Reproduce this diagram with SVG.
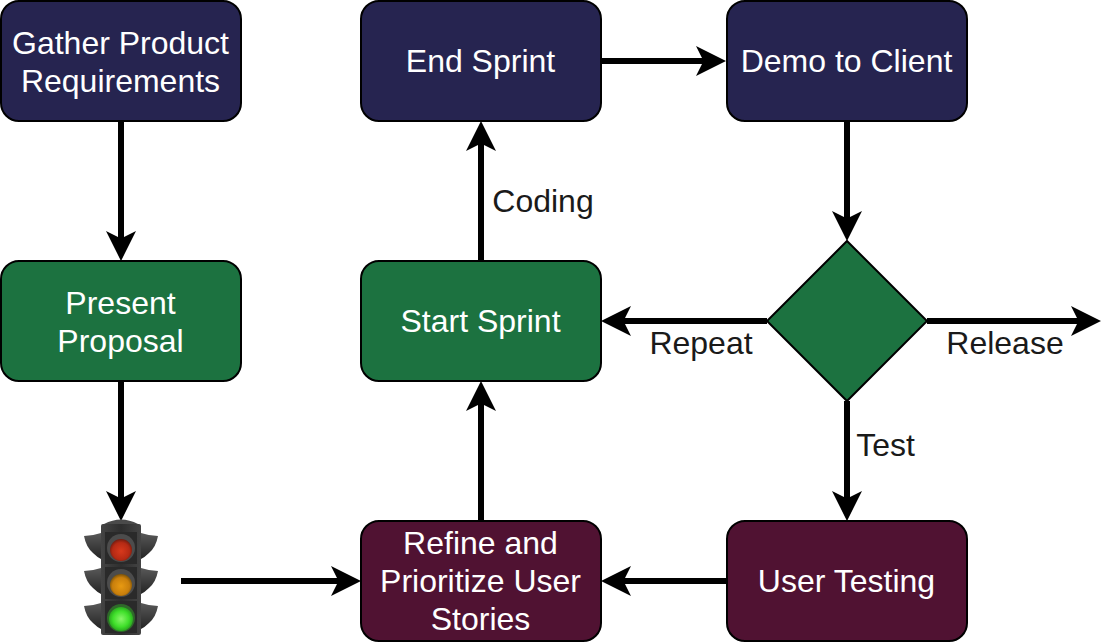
<svg xmlns="http://www.w3.org/2000/svg" width="1120" height="642" viewBox="0 0 1120 642">
<style>
text{font-family:"Liberation Sans",Arial,sans-serif;font-size:32px;text-anchor:middle}
.w{fill:#fff}
.l{fill:#1a1a1a}
.n{stroke:#000;stroke-width:2}
.b{fill:#262450}
.g{fill:#1c7240}
.m{fill:#501232}
.c{fill:none;stroke:#000;stroke-width:6;marker-end:url(#a)}
</style>
<defs>
<marker id="a" markerUnits="userSpaceOnUse" markerWidth="34" markerHeight="34" refX="20" refY="15" orient="auto" viewBox="0 0 34 30" overflow="visible"><path d="M0 0L30 15L0 30L7.500 15Z" fill="#000"/></marker>
<radialGradient id="rl" cx=".5" cy=".55" r=".55"><stop offset="0" stop-color="#d8391c"/><stop offset=".7" stop-color="#b52a14"/><stop offset="1" stop-color="#6e1c10"/></radialGradient>
<radialGradient id="yl" cx=".5" cy=".55" r=".55"><stop offset="0" stop-color="#e89a12"/><stop offset=".7" stop-color="#c97f0c"/><stop offset="1" stop-color="#7a5208"/></radialGradient>
<radialGradient id="gl" cx=".5" cy=".5" r=".6"><stop offset="0" stop-color="#8af56a"/><stop offset=".55" stop-color="#3fe02a"/><stop offset="1" stop-color="#1f8a18"/></radialGradient>
<linearGradient id="h" x1="0" x2="1" y1="0" y2="0"><stop offset="0" stop-color="#444"/><stop offset=".5" stop-color="#2e2e2e"/><stop offset="1" stop-color="#444"/></linearGradient>
<linearGradient id="wg" x1="0" x2="0" y1="0" y2="1"><stop offset="0" stop-color="#585858"/><stop offset="1" stop-color="#242424"/></linearGradient>
<path id="wl" d="M101 0Q92 3 84 3Q86 14 93 20Q97 24 101 26Z" fill="url(#wg)"/>
<path id="wr" d="M141 0Q150 3 158 3Q156 14 149 20Q145 24 141 26Z" fill="url(#wg)"/>
</defs>
<g id="connectors">
<path class="c" d="M121 121V251"/>
<path class="c" d="M121 381V511"/>
<path class="c" d="M181 581H351"/>
<path class="c" d="M481 521V391"/>
<path class="c" d="M481 261V131"/>
<path class="c" d="M601 61H716"/>
<path class="c" d="M847 121V231"/>
<path class="c" d="M767 321H611"/>
<path class="c" d="M927 321H1091"/>
<path class="c" d="M847 401V511"/>
<path class="c" d="M727 581H611"/>
</g>
<g id="n1"><rect class="n b" x="1" y="1" width="240" height="120" rx="18"/><text class="w" x="120.500" y="54">Gather Product</text><text class="w" x="120.500" y="92">Requirements</text></g>
<g id="n2"><rect class="n g" x="1" y="261" width="240" height="120" rx="18"/><text class="w" x="120.500" y="314">Present</text><text class="w" x="120.500" y="352">Proposal</text></g>
<g id="n3"><rect class="n b" x="361" y="1" width="240" height="120" rx="18"/><text class="w" x="480.500" y="72">End Sprint</text></g>
<g id="n4"><rect class="n b" x="727" y="1" width="240" height="120" rx="18"/><text class="w" x="846.500" y="72">Demo to Client</text></g>
<g id="n5"><rect class="n g" x="361" y="261" width="240" height="120" rx="18"/><text class="w" x="480.500" y="332">Start Sprint</text></g>
<g id="n6"><path class="n g" d="M847 241L927 321L847 401L767 321Z"/></g>
<g id="n7"><rect class="n m" x="361" y="521" width="240" height="120" rx="18"/><text class="w" x="480.500" y="554">Refine and</text><text class="w" x="480.500" y="592">Prioritize User</text><text class="w" x="480.500" y="630">Stories</text></g>
<g id="n8"><rect class="n m" x="727" y="521" width="240" height="120" rx="18"/><text class="w" x="846.500" y="592">User Testing</text></g>
<g id="labels">
<text class="l" x="543" y="212">Coding</text>
<text class="l" x="701" y="354">Repeat</text>
<text class="l" x="1005" y="354">Release</text>
<text class="l" x="885.500" y="456">Test</text>
</g>
<g id="traffic-light">
<use href="#wl" y="533"/><use href="#wr" y="533"/>
<use href="#wl" y="568"/><use href="#wr" y="568"/>
<use href="#wl" y="603"/><use href="#wr" y="603"/>
<path d="M104 524Q121 515 138 524Z" fill="#4a4a4a"/>
<rect x="101" y="524" width="40" height="111" rx="2" fill="url(#h)"/>
<rect x="105" y="532" width="32" height="32" fill="#2a2a2a"/>
<rect x="105" y="567" width="32" height="32" fill="#2a2a2a"/>
<rect x="105" y="601" width="32" height="32" fill="#2a2a2a"/>
<circle cx="121" cy="548" r="14" fill="#4c4c4c"/><circle cx="121" cy="550" r="11" fill="url(#rl)"/>
<circle cx="121" cy="583" r="14" fill="#4c4c4c"/><circle cx="121" cy="585" r="11" fill="url(#yl)"/>
<circle cx="121" cy="618" r="14" fill="#2f6a2a"/><circle cx="121" cy="619" r="12" fill="url(#gl)"/>
</g>
</svg>
